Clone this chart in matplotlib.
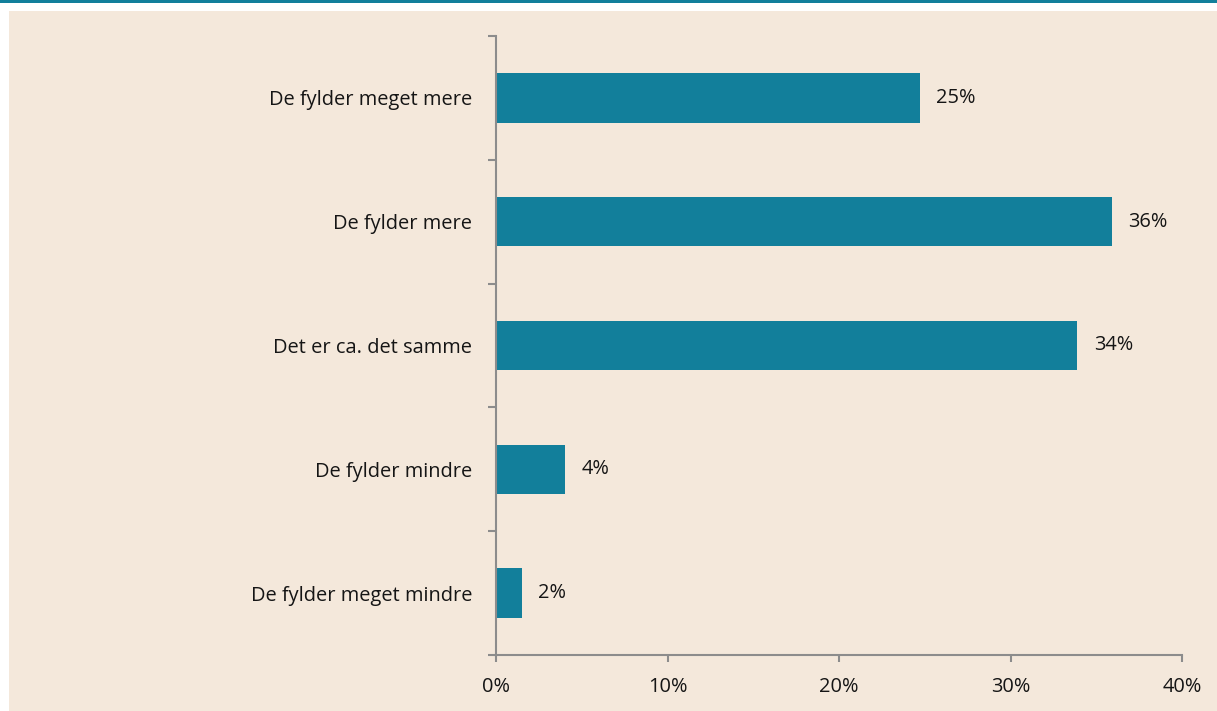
import matplotlib
matplotlib.use("Agg")
import matplotlib.pyplot as plt
from matplotlib.patches import Rectangle
from matplotlib.ticker import FixedLocator, FuncFormatter

categories = ["De fylder meget mere", "De fylder mere", "Det er ca. det samme",
              "De fylder mindre", "De fylder meget mindre"]
values = [24.7, 35.9, 33.9, 4.0, 1.5]
value_labels = ["25%", "36%", "34%", "4%", "2%"]
x_ticks = [0, 10, 20, 30, 40]

BG = "#F4E8DB"
TEAL = "#127F9B"
GREY = "#8C8C8C"
FS = 14.4
TXT = "#151515"

plt.rcParams['font.family'] = ['Open Sans', 'DejaVu Sans']

fig = plt.figure(figsize=(12.17, 7.11), dpi=100)
fig.patch.set_facecolor("white")
fig.patches.append(Rectangle((9/1217, 0), 1, 1 - 11/711, transform=fig.transFigure,
                             facecolor=BG, edgecolor="none", zorder=-10))
fig.patches.append(Rectangle((0, 1 - 3/711), 1, 3/711, transform=fig.transFigure,
                             facecolor=TEAL, edgecolor="none", zorder=-10))

ax = fig.add_axes([496/1217, 1 - 655/711, (1182 - 496)/1217, (655 - 36)/711])
ax.set_zorder(5)
ax.set_facecolor("none")

ypos = list(range(len(categories)))
ax.barh(ypos, values, height=0.4, color=TEAL, zorder=2)
for y, v, lab in zip(ypos, values, value_labels):
    ax.annotate(lab, (v, y), xytext=(12, 0), textcoords="offset points",
                va="center", ha="left", fontsize=FS, color=TXT)

ax.set_ylim(len(categories) - 0.5, -0.5)
ax.set_xlim(0, 40)

ax.set_yticks(ypos)
ax.set_yticklabels(categories, fontsize=FS, color=TXT)
ax.yaxis.set_minor_locator(FixedLocator([i - 0.5 for i in range(len(categories) + 1)]))
ax.tick_params(axis="y", which="major", length=0, pad=17)
ax.tick_params(axis="y", which="minor", length=6, width=1.5, color=GREY)

ax.set_xticks(x_ticks)
ax.xaxis.set_major_formatter(FuncFormatter(lambda v, p: f"{v:.0f}%"))
ax.tick_params(axis="x", length=5, width=1.5, color=GREY, labelsize=FS,
               labelcolor=TXT, pad=11)

for s in ["top", "right"]:
    ax.spines[s].set_visible(False)
for s in ["left", "bottom"]:
    ax.spines[s].set_color(GREY)
    ax.spines[s].set_linewidth(1.5)

fig.savefig("out.png", dpi=100)
